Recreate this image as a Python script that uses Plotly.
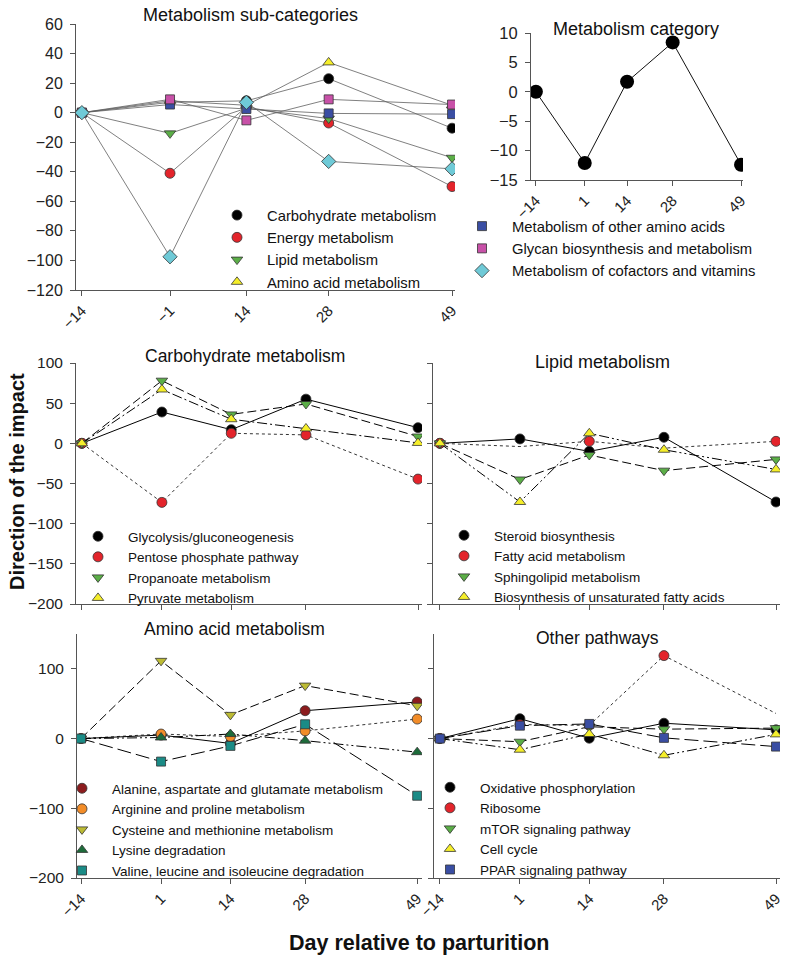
import plotly.graph_objects as go

# ---------------- data ----------------
days = [-14, 1, 14, 28, 49]
tick_text_top_left = ["\u221214", "\u22121", "14", "28", "49"]
tick_text = ["\u221214", "1", "14", "28", "49"]

# Metabolism sub-categories
sub_names = ["Carbohydrate metabolism", "Energy metabolism", "Lipid metabolism",
             "Amino acid metabolism", "Metabolism of other amino acids",
             "Glycan biosynthesis and metabolism", "Metabolism of cofactors and vitamins"]
carbohydrate = [0, 7, 8, 23, -10.5]
energy = [0, -41, 4, -7, -50]
lipid = [0, -14, 3, -4, -30.5]
amino_acid = [0, 8, 5, 34, 5]
other_amino = [0, 5.5, 2.5, -0.5, -1]
glycan = [0, 9, -5.2, 9, 5.5]
cofactors = [0, -97.5, 7, -33, -38]

# Metabolism category
category = [0, -12.1, 1.7, 8.4, -12.4]

# Carbohydrate metabolism
carb_names = ["Glycolysis/gluconeogenesis", "Pentose phosphate pathway",
              "Propanoate metabolism", "Pyruvate metabolism"]
glycolysis = [0, 39, 17, 55, 19.5]
pentose = [0, -73.5, 12.5, 10.5, -44.5]
propanoate = [0, 78, 36, 49, 8.5]
pyruvate = [0, 67, 30, 18.5, 0.5]

# Lipid metabolism
lipid_names = ["Steroid biosynthesis", "Fatty acid metabolism",
               "Sphingolipid metabolism", "Biosynthesis of unsaturated fatty acids"]
steroid = [0, 5.5, -10, 7.5, -73]
fatty_acid = [0, -4, 2.5, -6, 2.5]
fatty_acid_shown = [True, False, True, False, True]
sphingolipid = [0, -45, -14.5, -34, -20]
unsat_fa = [0, -73, 12.5, -8, -32.5]

# Amino acid metabolism
amino_names = ["Alanine, aspartate and glutamate metabolism", "Arginine and proline metabolism",
               "Cysteine and methionine metabolism", "Lysine degradation",
               "Valine, leucine and isoleucine degradation"]
alanine = [0, 5, -7, 40, 52.5]
arginine = [0, 6.5, 3, 11, 28]
cysteine = [0, 111.5, 34, 76, 47]
lysine = [0, 1.5, 6.5, -3, -19.5]
valine = [0, -33, -10.5, 20.5, -82]

# Other pathways
other_names = ["Oxidative phosphorylation", "Ribosome", "mTOR signaling pathway",
               "Cell cycle", "PPAR signaling pathway"]
oxphos = [0, 28.5, 0.5, 22, 12.5]
ribosome = [0, 20, 19, 119, 36]
ribosome_shown = [True, True, True, True, False]
mtor = [0, -4.5, 17, 13.5, 15]
cell_cycle = [0, -16, 6.5, -24, 6]
ppar = [0, 18.5, 21, 1, -11.5]

# ---------------- styling ----------------
W, H = 790, 959
FONT = "Liberation Sans, Arial, sans-serif"
NARROW = "Liberation Sans Narrow, Arial Narrow, Liberation Sans, sans-serif"
EDGE = dict(color="#333333", width=0.8)

BLACK = "#000000"
RED = "#e3242b"
GREEN = "#5bae47"
YELLOW = "#f5ee2a"
BLUE = "#3a4ea3"
PINK = "#c851a8"
CYAN = "#6fcad7"
DKRED = "#8c1c1e"
ORANGE = "#f28c28"
OLIVE = "#bcbb34"
DKGREEN = "#1d6b3a"
TEAL = "#1a8b86"


def dx(a, b):
    return [a / W, b / W]


def dy(top, bottom):
    return [1 - bottom / H, 1 - top / H]


fig = go.Figure()


def add_series(name, y, axis, legend, color, symbol, size, line_color, width, dash,
               shown=None):
    xa, ya = axis
    fig.add_trace(go.Scatter(
        x=days, y=y, mode="lines", xaxis=xa, yaxis=ya,
        line=dict(color=line_color, width=width, dash=dash),
        showlegend=False, hoverinfo="skip"))
    ym = y if shown is None else [v if s else None for v, s in zip(y, shown)]
    fig.add_trace(go.Scatter(
        x=days, y=ym, mode="markers", name=name, xaxis=xa, yaxis=ya, legend=legend,
        marker=dict(color=color, symbol=symbol, size=size, line=EDGE)))


GRAYLINE = "#606060"
# top-left panel
tl = ("x", "y")
add_series(sub_names[0], carbohydrate, tl, "legend", BLACK, "circle", 10, GRAYLINE, 0.8, "solid")
add_series(sub_names[1], energy, tl, "legend", RED, "circle", 10, GRAYLINE, 0.8, "solid")
add_series(sub_names[2], lipid, tl, "legend", GREEN, "triangle-down", 10, GRAYLINE, 0.8, "solid")
add_series(sub_names[3], amino_acid, tl, "legend", YELLOW, "triangle-up", 10, GRAYLINE, 0.8, "solid")
add_series(sub_names[4], other_amino, tl, "legend2", BLUE, "square", 9, GRAYLINE, 0.8, "solid")
add_series(sub_names[5], glycan, tl, "legend2", PINK, "square", 9, GRAYLINE, 0.8, "solid")
add_series(sub_names[6], cofactors, tl, "legend2", CYAN, "diamond", 11, GRAYLINE, 0.8, "solid")

# top-right panel
fig.add_trace(go.Scatter(x=days, y=category, mode="lines+markers", xaxis="x2", yaxis="y2",
                         line=dict(color="#111111", width=1),
                         marker=dict(color=BLACK, size=14), showlegend=False))

DASH = "9px,4px"
DASHDOT = "10px,3px,2px,3px"
DASHDOTDOT = "10px,3px,2px,3px,2px,3px"
LONGDASH = "14px,5px"

ml = ("x3", "y3")
add_series(carb_names[0], glycolysis, ml, "legend3", BLACK, "circle", 10, BLACK, 1, "solid")
add_series(carb_names[1], pentose, ml, "legend3", RED, "circle", 10, BLACK, 0.8, "dot")
add_series(carb_names[2], propanoate, ml, "legend3", GREEN, "triangle-down", 10, BLACK, 1, DASH)
add_series(carb_names[3], pyruvate, ml, "legend3", YELLOW, "triangle-up", 10, BLACK, 1, DASHDOT)

mr = ("x4", "y4")
add_series(lipid_names[0], steroid, mr, "legend4", BLACK, "circle", 10, BLACK, 1, "solid")
add_series(lipid_names[1], fatty_acid, mr, "legend4", RED, "circle", 10, BLACK, 0.8, "dot",
           shown=fatty_acid_shown)
add_series(lipid_names[2], sphingolipid, mr, "legend4", GREEN, "triangle-down", 10, BLACK, 1, DASH)
add_series(lipid_names[3], unsat_fa, mr, "legend4", YELLOW, "triangle-up", 10, BLACK, 1, DASHDOTDOT)

bl = ("x5", "y5")
add_series(amino_names[0], alanine, bl, "legend5", DKRED, "circle", 10, BLACK, 1, "solid")
add_series(amino_names[1], arginine, bl, "legend5", ORANGE, "circle", 10, BLACK, 0.8, "dot")
add_series(amino_names[2], cysteine, bl, "legend5", OLIVE, "triangle-down", 10, BLACK, 1, DASH)
add_series(amino_names[3], lysine, bl, "legend5", DKGREEN, "triangle-up", 10, BLACK, 1, DASHDOTDOT)
add_series(amino_names[4], valine, bl, "legend5", TEAL, "square", 9, BLACK, 1, LONGDASH)

br = ("x6", "y6")
add_series(other_names[0], oxphos, br, "legend6", BLACK, "circle", 10, BLACK, 1, "solid")
add_series(other_names[1], ribosome, br, "legend6", RED, "circle", 10, BLACK, 0.8, "dot",
           shown=ribosome_shown)
add_series(other_names[2], mtor, br, "legend6", GREEN, "triangle-down", 10, BLACK, 1, DASH)
add_series(other_names[3], cell_cycle, br, "legend6", YELLOW, "triangle-up", 10, BLACK, 1, DASHDOTDOT)
add_series(other_names[4], ppar, br, "legend6", BLUE, "square", 9, BLACK, 1, LONGDASH)

# ---------------- axes ----------------
AXCOL = "#555555"


def xaxis(domain, rng, labels, show, anchor):
    return dict(domain=domain, range=rng, anchor=anchor, tickmode="array", tickvals=days,
                ticktext=labels, showticklabels=show, tickangle=-45, ticks="outside",
                ticklen=5, tickcolor=AXCOL, showline=True, linecolor=AXCOL, linewidth=1,
                showgrid=False, zeroline=False, automargin=False,
                tickfont=dict(family=FONT, size=15, color="#222222"))


def yaxis(domain, rng, dtick, show, anchor, size=15.5):
    return dict(domain=domain, range=rng, anchor=anchor, dtick=dtick, showticklabels=show,
                ticks="outside", ticklen=5, tickcolor=AXCOL, showline=True, linecolor=AXCOL,
                linewidth=1, showgrid=False, zeroline=False, ticklabelstandoff=4,
                automargin=False,
                tickfont=dict(family=FONT, size=size, color="#222222"))


layout = dict(
    width=W, height=H, margin=dict(l=0, r=0, t=0, b=0, autoexpand=False),
    paper_bgcolor="white", plot_bgcolor="white", showlegend=True,
    xaxis=xaxis(dx(76, 455), [-15.0, 49.5], tick_text_top_left, True, "y"),
    yaxis=yaxis(dy(24, 290), [-120, 60], 20, True, "x", 16),
    xaxis2=xaxis(dx(531, 743), [-15.5, 49.6], tick_text, True, "y2"),
    yaxis2=yaxis(dy(33, 180), [-15, 10], 5, True, "x2", 16.5),
    xaxis3=xaxis(dx(76, 422), [-15.1, 49.75], tick_text, False, "y3"),
    yaxis3=yaxis(dy(363, 604), [-200, 100], 50, True, "x3"),
    xaxis4=xaxis(dx(433, 780), [-15.3, 49.75], tick_text, False, "y4"),
    yaxis4=yaxis(dy(363, 604), [-200, 100], 50, False, "x4"),
    xaxis5=xaxis(dx(77, 422), [-14.75, 49.9], tick_text, True, "y5"),
    yaxis5=yaxis(dy(634, 878), [-200, 150], 100, True, "x5"),
    xaxis6=xaxis(dx(434, 780), [-15.1, 49.75], tick_text, True, "y6"),
    yaxis6=yaxis(dy(634, 878), [-200, 150], 100, False, "x6"),
)


def leg(px, py, size):
    return dict(x=px / W, y=1 - py / H, xanchor="left", yanchor="top",
                bgcolor="rgba(0,0,0,0)", borderwidth=0, itemwidth=50,
                font=dict(family=FONT, size=size, color="#111111"),
                tracegroupgap=0, itemclick=False)


layout["legend"] = leg(207, 199, 14.8)
layout["legend2"] = leg(452, 210, 14.8)
layout["legend3"] = leg(68, 521, 13.5)
layout["legend4"] = leg(434, 520, 13.5)
layout["legend5"] = leg(52, 773, 13.5)
layout["legend6"] = leg(420, 772, 13.5)

fig.update_layout(**layout)

titles = [
    ("Metabolism sub-categories", 250, 15, 18),
    ("Metabolism category", 636, 29, 18),
    ("Carbohydrate metabolism", 245, 356, 17.5),
    ("Lipid metabolism", 602, 362, 18),
    ("Amino acid metabolism", 235, 629, 17.5),
    ("Other pathways", 597, 638, 17.5),
]
for text, px, py, size in titles:
    fig.add_annotation(text=text, x=px / W, y=1 - py / H, xref="paper", yref="paper",
                       showarrow=False, xanchor="center", yanchor="middle",
                       font=dict(family=FONT, size=size, color="#111111"))

fig.add_annotation(text="<b>Direction of the impact</b>", x=17 / W, y=1 - 482 / H,
                   xref="paper", yref="paper", showarrow=False, textangle=-90,
                   xanchor="center", yanchor="middle",
                   font=dict(family=NARROW, size=20, color="#111111"))
fig.add_annotation(text="<b>Day relative to parturition</b>", x=419 / W, y=1 - 943 / H,
                   xref="paper", yref="paper", showarrow=False,
                   xanchor="center", yanchor="middle",
                   font=dict(family=NARROW, size=21.5, color="#111111"))

fig.write_html("out.html",
               config={"displayModeBar": False},
               post_script="document.body.style.margin='0';"
                           "document.body.style.overflow='hidden';")
